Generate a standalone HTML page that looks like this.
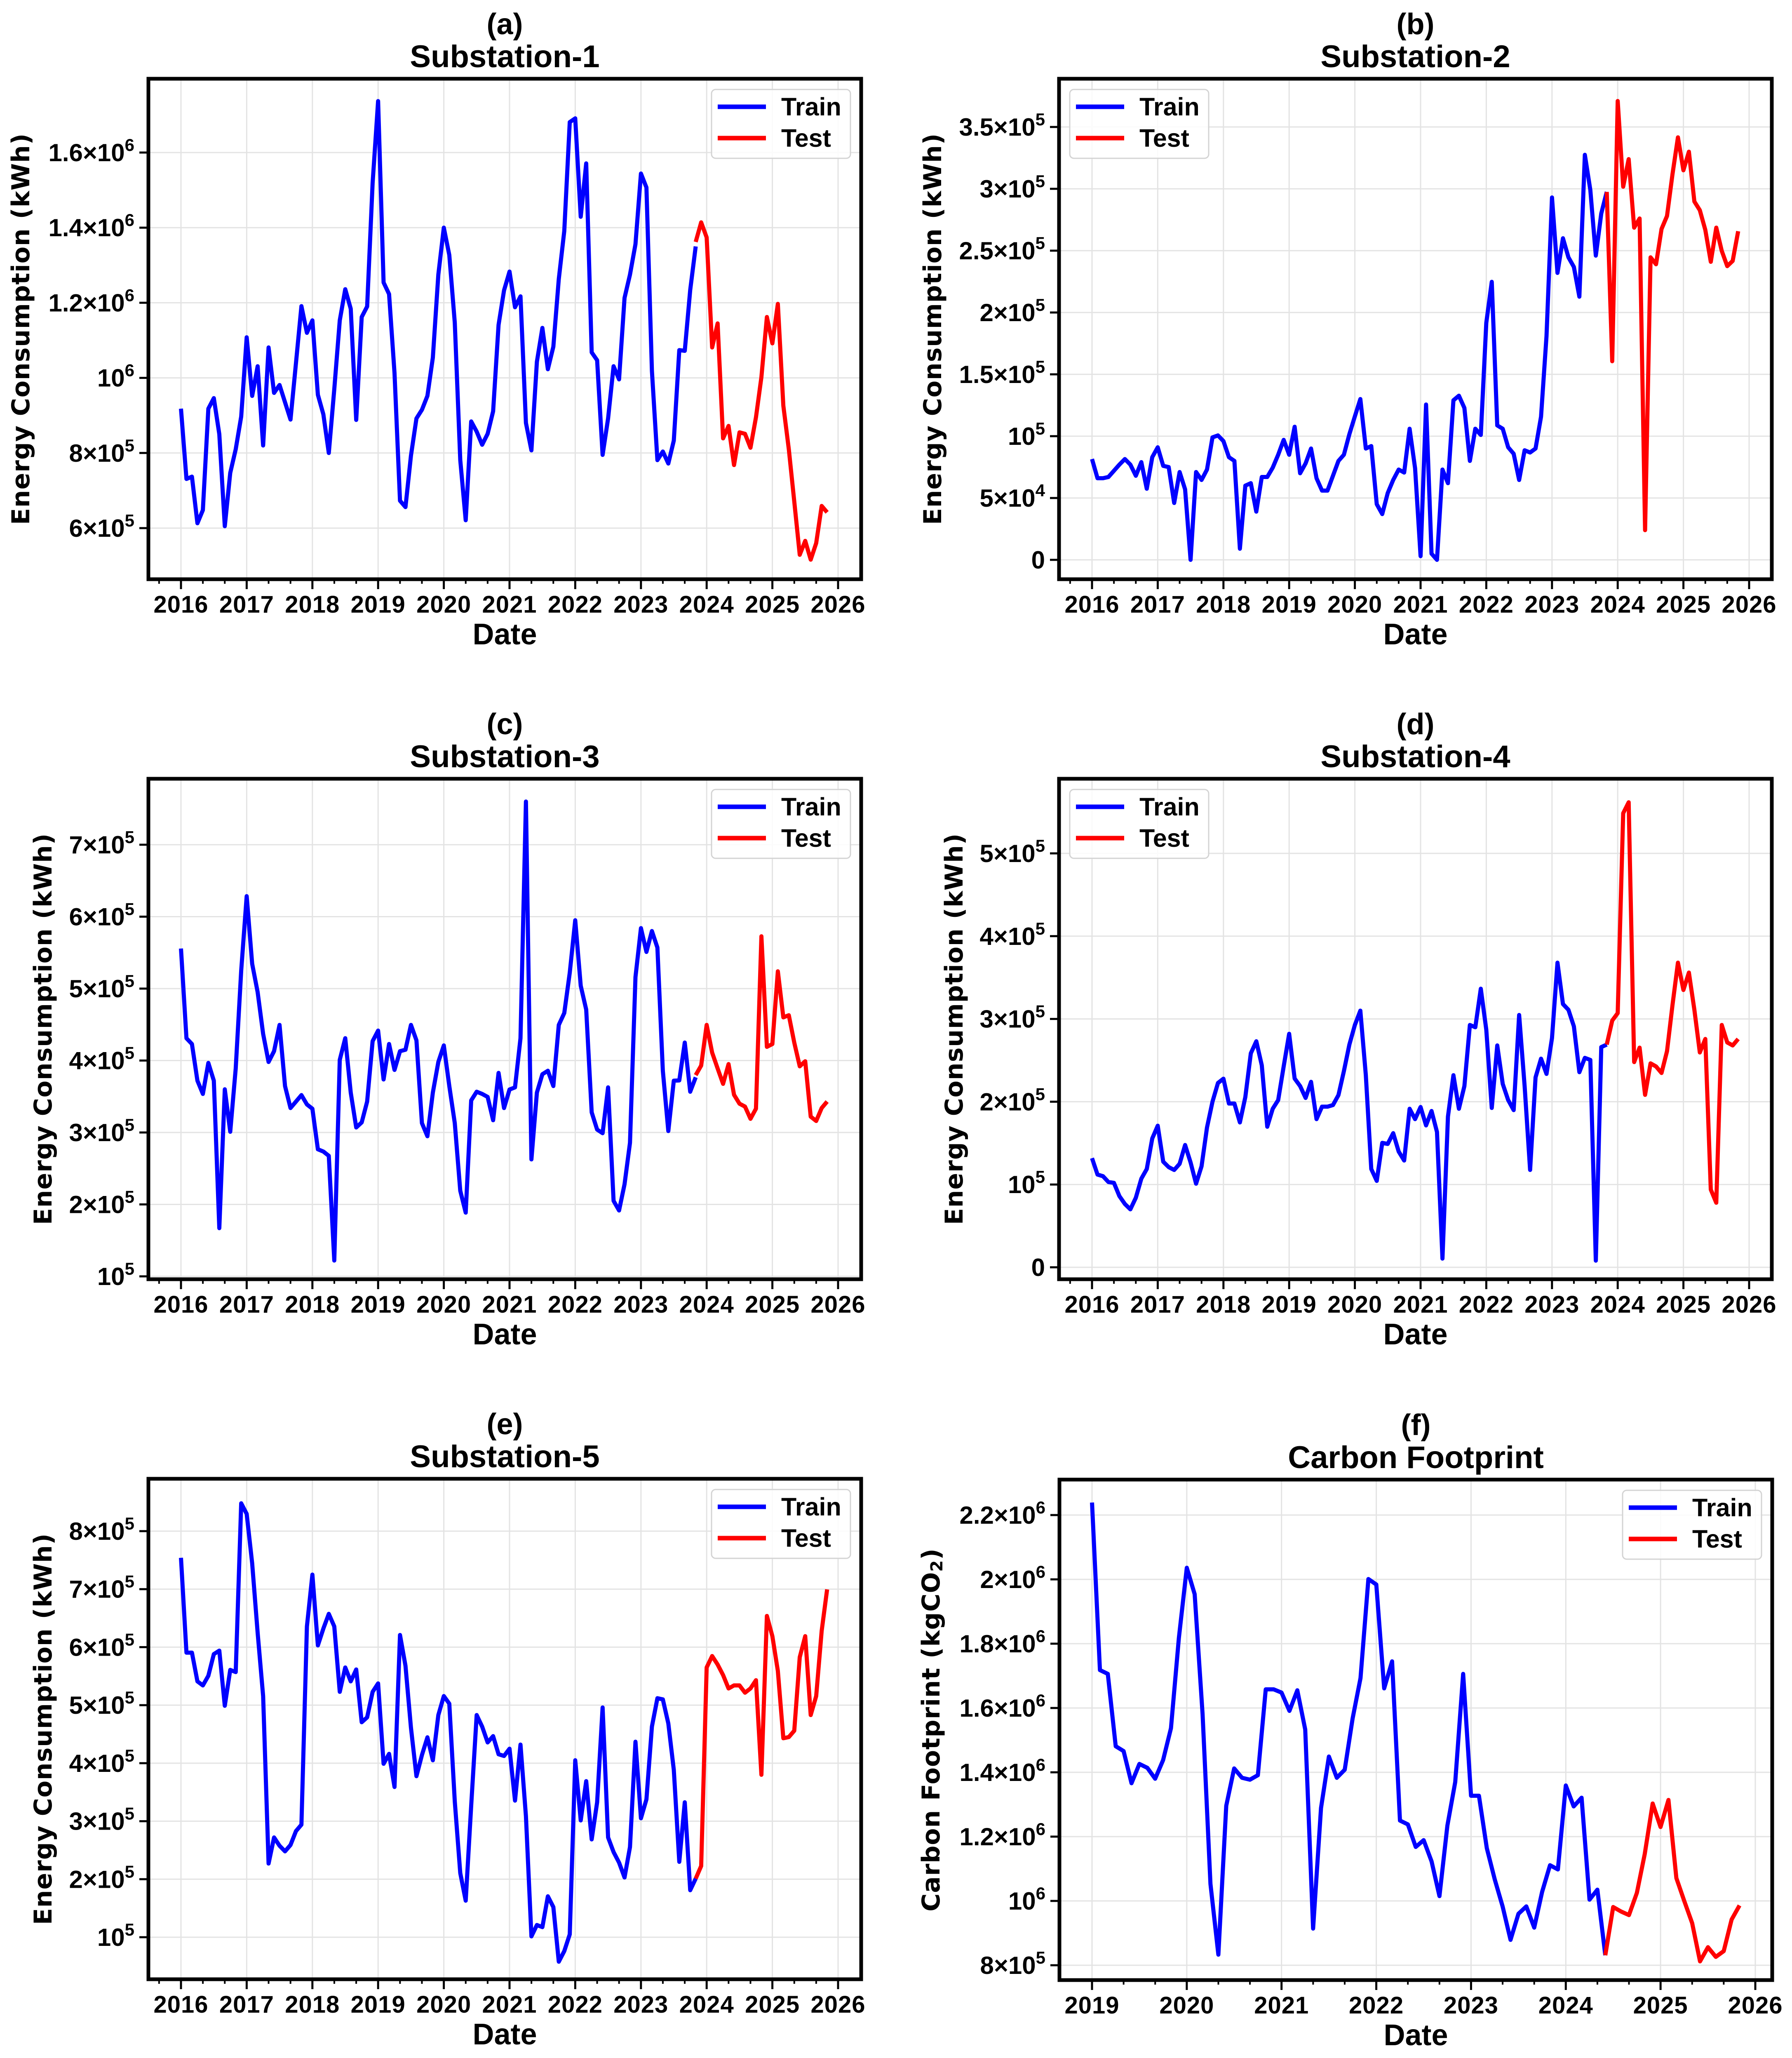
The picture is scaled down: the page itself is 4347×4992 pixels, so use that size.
<!DOCTYPE html>
<html><head><meta charset="utf-8"><style>
html,body{margin:0;padding:0;background:#fff;}
svg{display:block;}
text{font-family:"Liberation Sans","DejaVu Sans",sans-serif;font-weight:bold;fill:#000;}
</style></head><body>
<svg id="fig" xmlns="http://www.w3.org/2000/svg" width="4347" height="4992" viewBox="0 0 4347 4992"></svg>
<script>
// ---- data (values in thousands; months since first x year) ----
const aTrain=[918,731,737,613,648,918,946,850,605,747,810,897,1108,952,1031,820,1081,960,981,935,889,1040,1191,1120,1153,955,903,800,970,1153,1236,1184,888,1162,1190,1519,1737,1254,1223,1013,673,656,793,892,915,952,1054,1275,1400,1327,1147,781,621,884,857,822,851,911,1141,1233,1283,1188,1217,880,807,1043,1133,1023,1083,1263,1391,1681,1691,1429,1571,1068,1047,795,892,1031,996,1213,1275,1356,1544,1507,1019,781,804,772,833,1074,1072,1234,1350];
const aTest=[1362,1414,1374,1081,1145,839,872,768,855,851,814,895,1002,1162,1092,1197,926,810,671,529,566,516,560,659,642];
const bTrain=[81.5,66,66,67,72,77,81.5,77,68,79,57.5,83,91,76,75,46,71,57,0,71,64.6,73,99,100.6,96,83,80,9,60,62,39,67,67,74.5,85,97,85,107.6,70,78,90,66,56,56,68,80,85,101.6,116,130,90,92,45,37,54,64.6,73,70.6,106,74,3,125.6,5,0,73,62,129,132.7,122.8,80,106,101,191.6,224.8,108.7,106,91,85.8,64.6,88.6,86.8,90,115.7,181,293,232,260,244.6,236.8,212.8,327.5,299,246,280,297.5];
const bTest=[297.5,160.6,371,301.7,324,268.6,276,24,244.6,239,267.5,278,311.6,341.6,315,330,289.7,282.7,266.8,241,268.6,249.8,237.5,241.7,265.7];
const cTrain=[555.7,431,423,372,353.6,396.7,372,167,360,301,389,525,628.5,534.5,495,437,398,413,449.5,364.6,334,343,352,339,333,276.6,273.5,267.5,122,401,431,355.5,307,314,343,427,441.6,373.7,423,387,413,415,449.5,428,313,294.8,355.5,398,421,364.6,313,219,188.6,344.5,356.7,353.6,349.4,317,382.8,334,359.7,362.7,431,760,262.6,355.5,381,385.8,364.6,449.5,466,522,595,504,470.8,328,304,299,362.7,205,191.6,228,285.7,516,584,551,580,557,385.8,302,372,372.4,425,356.7,376.7];
const cTest=[379.7,393,449.5,411,389,367.6,395,352.4,340,336,319,333,572.7,419,423,524,460,463,425,392,399,322,316,334,343];
const dTrain=[131.8,112,110,103,102,86,76.5,70,84,107,118.7,155.6,171,127.6,121,117.6,125,147.7,126.6,101,122,168.8,200,222.6,227.8,197.8,197.8,175,205.7,258.4,273,244,169.8,191.5,202,242.6,282,228,218.9,204.6,224,179,194,194,196,208,237,269,292.7,310,232,118.7,104.4,150.3,149,162,139.8,129,191.5,179,193.6,171.4,188.8,163.5,10.5,182,232,191.5,218.9,292.7,290,336.5,287,192.5,268,221.5,202,189.9,304.8,218.9,117.6,229.4,252,233.6,276.9,368,318,311,291,235.7,253,250.5,8,266,269];
const dTest=[269,298,307,548.5,561.7,247.9,265.3,208.3,246.3,242.6,234.7,261,316.4,368,335,356,311,259.5,275.8,93.9,78,292.7,271.6,268,275.8];
const eTrain=[754,590.6,590.6,541,534,550.6,588,594,499,560.8,557,848,829.7,744.6,624.7,515.7,227,272,257.7,248,259,283,294,635.6,725,603,632,657.4,635.6,523,565,541,561.5,470.6,479,523,537.5,399,416,359,621,568,461,377.6,414,444.5,405,483,515.7,502.6,334,210.5,163,326.7,483,463,435.8,446.6,415.4,412.5,424.9,335.5,432,308.6,101.5,121,117.4,170.5,152,57.8,76,105,405,301.3,369,268.6,332.6,496,272,246.8,228.6,203,255.5,437,305,337.6,463,512,510,468.5,388.5,230,332.6,181,201];
const eTest=[201,222.8,565,584.7,570,552,528.8,534,534,521.5,528.8,543,380,653.8,618.9,559,443,445,456,582.6,618.9,483,515.7,628,699.6];
const fTrain=[2239,1718,1706,1481,1466,1366,1426,1414,1380,1438,1537,1818,2036,1954,1581,1053,833,1296,1412,1383,1377,1391,1658,1658,1648,1591,1655,1533,914,1289,1449,1383,1408,1567,1693,2001,1984,1661,1745,1250,1238,1168,1189,1123,1015,1234,1370,1706,1327,1327,1164,1067,983,879,960,983,917,1028,1111,1098,1359,1294,1321,1004,1035,831];
const fTest=[831,981,967,956,1025,1146,1303,1230,1314,1071,1000,931,812,856,826,844,942,986];
const aSplit=94, bSplit=94, cSplit=94, dSplit=94, eSplit=94, fSplit=65;
const yearsMain=[2016,2017,2018,2019,2020,2021,2022,2023,2024,2025,2026];
const yearsCarbon=[2019,2020,2021,2022,2023,2024,2025,2026];
const aTicks=[600,800,1000,1200,1400,1600];
const aTickLabels=[["6×10","5"],["8×10","5"],["10","6"],["1.2×10","6"],["1.4×10","6"],["1.6×10","6"]];
const bTicks=[0,50,100,150,200,250,300,350];
const bTickLabels=[["0",""],["5×10","4"],["10","5"],["1.5×10","5"],["2×10","5"],["2.5×10","5"],["3×10","5"],["3.5×10","5"]];
const cTicks=[100,200,300,400,500,600,700];
const cTickLabels=[["10","5"],["2×10","5"],["3×10","5"],["4×10","5"],["5×10","5"],["6×10","5"],["7×10","5"]];
const dTicks=[0,100,200,300,400,500];
const dTickLabels=[["0",""],["10","5"],["2×10","5"],["3×10","5"],["4×10","5"],["5×10","5"]];
const eTicks=[100,200,300,400,500,600,700,800];
const eTickLabels=[["10","5"],["2×10","5"],["3×10","5"],["4×10","5"],["5×10","5"],["6×10","5"],["7×10","5"],["8×10","5"]];
const fTicks=[800,1000,1200,1400,1600,1800,2000,2200];
const fTickLabels=[["8×10","5"],["10","6"],["1.2×10","6"],["1.4×10","6"],["1.6×10","6"],["1.8×10","6"],["2×10","6"],["2.2×10","6"]];

const NS="http://www.w3.org/2000/svg";
const svg=document.getElementById('fig');
function mk(tag,attrs,parent){const e=document.createElementNS(NS,tag);for(const k in attrs)e.setAttribute(k,attrs[k]);(parent||svg).appendChild(e);return e;}

const panels=[
 {id:'a',letter:'(a)',title:'Substation-1',left:360,top:191,train:aTrain,test:aTest,split:aSplit,years:yearsMain,x0:79,x1:1673,yv:[600,1600],yp:[1090,179],ticks:aTicks,labels:aTickLabels,legendRight:true,ylabOff:309,ylab:'Energy Consumption (kWh)'},
 {id:'b',letter:'(b)',title:'Substation-2',left:2569,top:191,train:bTrain,test:bTest,split:bSplit,years:yearsMain,x0:80,x1:1674,yv:[0,350],yp:[1167,117],ticks:bTicks,labels:bTickLabels,legendRight:false,ylabOff:306,ylab:'Energy Consumption (kWh)'},
 {id:'c',letter:'(c)',title:'Substation-3',left:360,top:1889,train:cTrain,test:cTest,split:cSplit,years:yearsMain,x0:79,x1:1673,yv:[100,700],yp:[1207,160],ticks:cTicks,labels:cTickLabels,legendRight:true,ylabOff:255,ylab:'Energy Consumption (kWh)'},
 {id:'d',letter:'(d)',title:'Substation-4',left:2569,top:1889,train:dTrain,test:dTest,split:dSplit,years:yearsMain,x0:80,x1:1674,yv:[0,500],yp:[1185,181],ticks:dTicks,labels:dTickLabels,legendRight:false,ylabOff:254,ylab:'Energy Consumption (kWh)'},
 {id:'e',letter:'(e)',title:'Substation-5',left:360,top:3587,train:eTrain,test:eTest,split:eSplit,years:yearsMain,x0:79,x1:1673,yv:[100,800],yp:[1112,127],ticks:eTicks,labels:eTickLabels,legendRight:true,ylabOff:255,ylab:'Energy Consumption (kWh)'},
 {id:'f',letter:'(f)',title:'Carbon Footprint',left:2570,top:3589,train:fTrain,test:fTest,split:fSplit,years:yearsCarbon,x0:79,x1:1688,yv:[800,2200],yp:[1178,86],ticks:fTicks,labels:fTickLabels,legendRight:true,ylabOff:311,ylab:'carbon'}
];
const W=1729,H=1214;

panels.forEach(p=>{
 const g=mk('g',{});
 
 
 const L=p.left,T=p.top;
 const nYears=p.years.length-1;
 const monthPx=(p.x1-p.x0)/(nYears*12);
 const xs=m=>L+p.x0+m*monthPx;
 const ys=v=>T+p.yp[0]+(v-p.yv[0])*(p.yp[1]-p.yp[0])/(p.yv[1]-p.yv[0]);
 p.years.forEach((yr,i)=>{const x=xs(i*12);const l=mk('line',{x1:x,x2:x,y1:T,y2:T+H,stroke:'#e3e3e3','stroke-width':3},g);
  });
 p.ticks.forEach(v=>{const y=ys(v);const l=mk('line',{x1:L,x2:L+W,y1:y,y2:y,stroke:'#e3e3e3','stroke-width':3},g);
  });
 const trainPts=p.train.map((v,i)=>xs(i).toFixed(1)+','+ys(v).toFixed(1)).join(' ');
 const testPts=p.test.map((v,i)=>xs(p.split+i).toFixed(1)+','+ys(v).toFixed(1)).join(' ');
 const tr=mk('polyline',{points:trainPts,fill:'none',stroke:'#0000ff','stroke-width':10,'stroke-linejoin':'round'},g);
 
 const te=mk('polyline',{points:testPts,fill:'none',stroke:'#ff0000','stroke-width':10,'stroke-linejoin':'round'},g);
 
 const fr=mk('rect',{x:L,y:T,width:W,height:H,fill:'none',stroke:'#000','stroke-width':9},g);
 
 const totalM=nYears*12;
 for(let m=-4;m<=totalM+4;m+=4){const x=xs(m);if(x<L+4||x>L+W-4)continue;
  const major=(m%12===0);
  mk('line',{x1:x,x2:x,y1:T+H,y2:T+H+(major?24:11),stroke:'#000','stroke-width':major?5:4},g);}
 p.years.forEach((yr,i)=>{const t=mk('text',{x:xs(i*12),y:T+H+81,'text-anchor':'middle','font-size':58,'letter-spacing':1},g);
  t.textContent=yr;});
 p.ticks.forEach((v,i)=>{const y=ys(v);
  mk('line',{x1:L-22,x2:L,y1:y,y2:y,stroke:'#000','stroke-width':5},g);
  const t=mk('text',{x:L-34,y:y+21,'text-anchor':'end','font-size':60},g);
  
  const lb=p.labels[i];
  const s1=mk('tspan',{},t);s1.textContent=lb[0];
  if(lb[1]){const s2=mk('tspan',{'font-size':42,dy:-25},t);s2.textContent=lb[1];}
 });
 const cx=L+W/2;
 const t1=mk('text',{x:cx,y:T-108,'text-anchor':'middle','font-size':72},g);t1.textContent=p.letter;
 
 const t2=mk('text',{x:cx,y:T-28,'text-anchor':'middle','font-size':76},g);t2.textContent=p.title;
 
 const xl=mk('text',{x:cx,y:T+H+158,'text-anchor':'middle','font-size':72},g);xl.textContent='Date';
 
 const yx=L-p.ylabOff, yy=T+H/2;
 const yl=mk('text',{x:yx,y:yy,'text-anchor':'middle','dominant-baseline':'central','font-size':60,transform:`rotate(-90 ${yx} ${yy})`,style:'font-family:"DejaVu Sans",sans-serif;letter-spacing:1px'},g);
 
 if(p.ylab==='carbon'){const a=mk('tspan',{},yl);a.textContent='Carbon Footprint (kgCO';const b=mk('tspan',{'font-size':40,dy:14},yl);b.textContent='2';const c=mk('tspan',{dy:-14},yl);c.textContent=')';}
 else yl.textContent=p.ylab;
 const lw=337,lh=167;
 const lx=p.legendRight?L+W-26-lw:L+26, ly=T+26;
 const lg=mk('g',{},g);
 mk('rect',{x:lx,y:ly,width:lw,height:lh,rx:10,fill:'#fff','fill-opacity':0.85,stroke:'#d3d3d3','stroke-width':3},lg);
 [['Train','#0000ff',42],['Test','#ff0000',118]].forEach(([nm,col,dy])=>{
  const e=mk('g',{},lg);
  mk('line',{x1:lx+15,x2:lx+132,y1:ly+dy,y2:ly+dy,stroke:col,'stroke-width':11},e);
  const t=mk('text',{x:lx+169,y:ly+dy+21,'font-size':61},e);t.textContent=nm;
 });
});
</script>
</body></html>
